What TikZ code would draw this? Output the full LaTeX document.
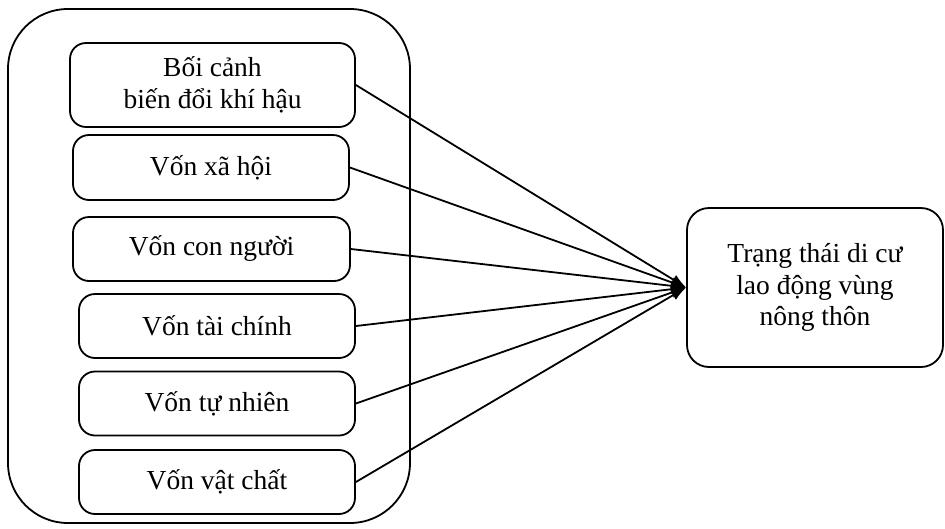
\documentclass[tikz,border=0pt]{standalone}
\usepackage{fontspec}
\setmainfont{Liberation Serif}
\usetikzlibrary{arrows.meta}
\begin{document}
\begin{tikzpicture}[x=1pt,y=-1pt,
  every node/.style={font=\fontsize{27.5}{31.5}\selectfont},
  frame/.style={draw, line width=1.8pt, rounded corners=60pt},
  factor/.style={draw, line width=1.8pt, rounded corners=16pt, align=center,
    inner sep=0pt},
  outcome/.style={draw, line width=1.8pt, rounded corners=22pt, align=center,
    inner sep=0pt, minimum width=256pt, minimum height=159pt},
  link/.style={line width=1.8pt, -{Latex[length=15pt,width=11pt]}}]
\useasboundingbox (0,0) rectangle (945,528);
% outer frame grouping the factors
\draw[frame] (8,9) rectangle (410,523);
% factors
\node[factor, minimum width=285pt, minimum height=84pt] (b1) at (212.5,85)
  {Bối cảnh\\biến đổi khí hậu};
\node[factor, minimum width=276pt, minimum height=65pt] (b2) at (211,167.5)
  {Vốn xã hội};
\node[factor, minimum width=277pt, minimum height=64pt] (b3) at (211.5,249)
  {Vốn con người};
\node[factor, minimum width=276pt, minimum height=64pt] (b4) at (217,326)
  {Vốn tài chính};
\node[factor, minimum width=276pt, minimum height=64pt] (b5) at (217,403.5)
  {Vốn tự nhiên};
\node[factor, minimum width=276pt, minimum height=64pt] (b6) at (217,482)
  {Vốn vật chất};
% outcome
\node[outcome] (r) at (815,287.5)
  {Trạng thái di cư\\lao động vùng\\nông thôn};
% links
\foreach \n in {b1,b2,b3,b4,b5,b6}
  \draw[link] (\n.east) -- (r.west);
\end{tikzpicture}
\end{document}
